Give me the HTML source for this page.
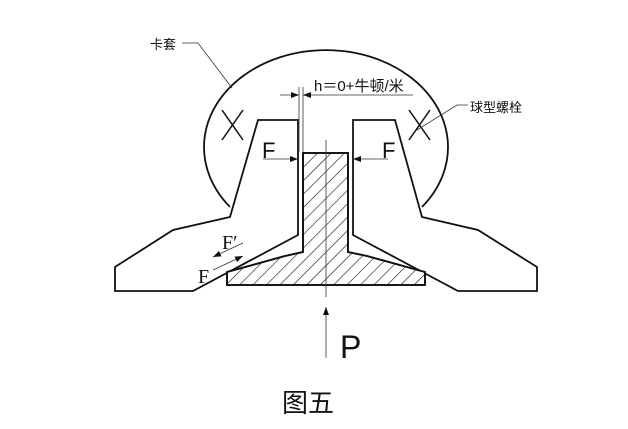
<!DOCTYPE html>
<html><head><meta charset="utf-8"><style>
html,body{margin:0;padding:0;background:#fff;}
svg{display:block;}
</style></head><body>
<svg width="628" height="429" viewBox="0 0 628 429" xmlns="http://www.w3.org/2000/svg">
<defs>
<pattern id="h" patternUnits="userSpaceOnUse" width="9.5" height="9.5" patternTransform="rotate(45)">
<line x1="0" y1="0" x2="0" y2="9.5" stroke="#111" stroke-width="1.2"/>
</pattern>
<marker id="a" markerWidth="8" markerHeight="6" refX="8" refY="3" orient="auto" markerUnits="userSpaceOnUse"><path d="M0,0 L8,3 L0,6 z" fill="#111"/></marker>
</defs>
<g fill="none" stroke="#111" stroke-width="1.8">
<path d="M230,207 A122,97 0 1 1 422,207"/>
<path d="M258,120 L298,120 L298,235 L193,291 L115,291 L115,267 L173,230 L230,217 Z" fill="#fff"/>
<path d="M395,120 L353,120 L353,235 L458,291 L537,291 L537,267 L478,230 L422,217 Z" fill="#fff"/>
<path d="M303,153 L348,153 L348,252 L367,256 L425,272 L425,285 L227,285 L227,272 L285,256 L303,252 Z" fill="#fff"/>
<path d="M303,153 L348,153 L348,252 L367,256 L425,272 L425,285 L227,285 L227,272 L285,256 L303,252 Z" fill="url(#h)"/>
</g>
<g stroke="#111" stroke-width="1.5">
<line x1="222" y1="110" x2="243" y2="140"/><line x1="243" y1="110" x2="222" y2="140"/>
<line x1="409" y1="140" x2="430" y2="110"/><line x1="409" y1="110" x2="430" y2="140"/>
</g>
<g stroke="#333" stroke-width="0.8" fill="none">
<line x1="326" y1="140" x2="326" y2="297"/>
<line x1="299" y1="87" x2="299" y2="152"/>
<line x1="303" y1="87" x2="303" y2="152"/>
<line x1="280" y1="95" x2="299" y2="95" marker-end="url(#a)"/>
<line x1="413" y1="95" x2="303" y2="95" marker-end="url(#a)"/>
<polyline points="182,43 198,43 232,88"/>
<polyline points="468,105 457,105 417,130"/>
<line x1="263" y1="159" x2="298" y2="159" marker-end="url(#a)"/>
<line x1="388" y1="159" x2="353" y2="159" marker-end="url(#a)"/>
<line x1="243" y1="243" x2="213" y2="257" marker-end="url(#a)"/>
<line x1="213" y1="270" x2="243" y2="256" marker-end="url(#a)"/>
<line x1="326" y1="358" x2="326" y2="307" marker-end="url(#a)"/>
</g>
<g font-family="Liberation Sans, Noto Sans CJK SC, sans-serif" fill="#111">
<text x="150" y="49" font-size="13">卡套</text>
<text x="470" y="112" font-size="13">球型螺栓</text>
<text x="314" y="91" font-size="15">h＝0+牛顿/米</text>
<text x="262" y="158" font-size="22">F</text>
<text x="382" y="158" font-size="22">F</text>
<text x="340" y="358" font-size="32">P</text>
<text x="282" y="412" font-size="26">图五</text>
</g>
<g font-family="Liberation Serif, serif" fill="#111" font-size="20">
<text x="222" y="249">F′</text>
<text x="198" y="283">F</text>
</g>
</svg>
</body></html>
